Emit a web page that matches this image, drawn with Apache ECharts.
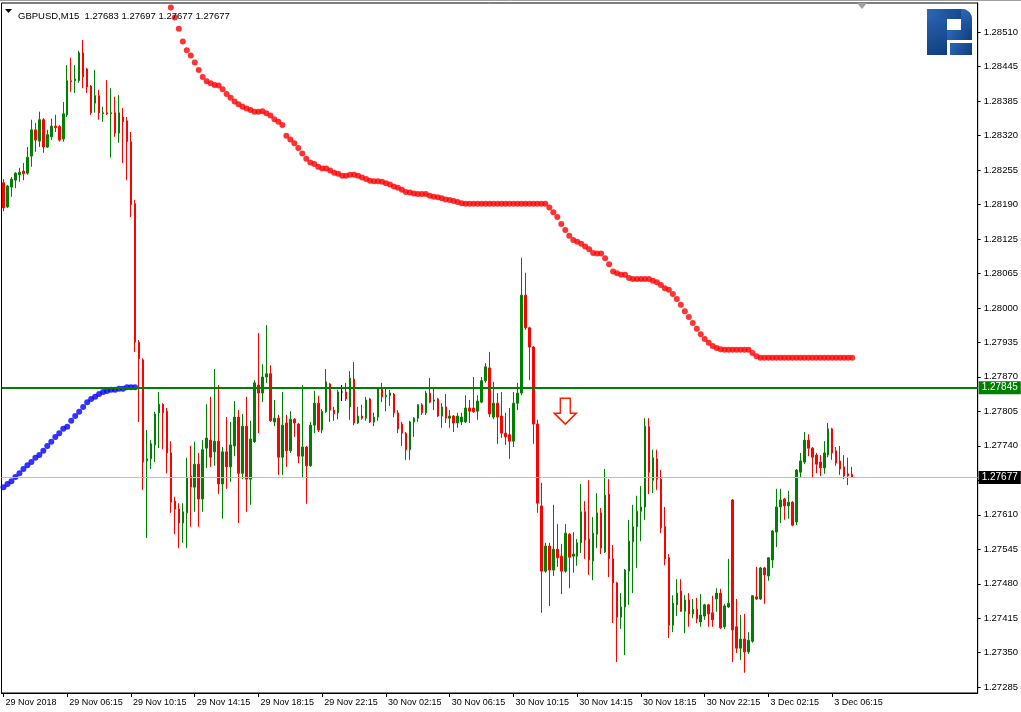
<!DOCTYPE html>
<html><head><meta charset="utf-8">
<script src="https://cdn.jsdelivr.net/npm/echarts@6/dist/echarts.min.js"></script>
<style>html,body{margin:0;padding:0;background:#fff}#c{width:1021px;height:712px}</style>
</head><body><div id="c"></div>
<script>
const symbolName = 'GBPUSD,M15';
const headerPrices = ['1.27683', '1.27697', '1.27677', '1.27677'];
const xTickLabels = ['29 Nov 2018','29 Nov 06:15','29 Nov 10:15','29 Nov 14:15','29 Nov 18:15','29 Nov 22:15','30 Nov 02:15','30 Nov 06:15','30 Nov 10:15','30 Nov 14:15','30 Nov 18:15','30 Nov 22:15','3 Dec 02:15','3 Dec 06:15'];
const yTickLabels = ['1.28510','1.28445','1.28385','1.28320','1.28255','1.28190','1.28125','1.28065','1.28000','1.27935','1.27870','1.27805','1.27740','1.27675','1.27610','1.27545','1.27480','1.27415','1.27350','1.27285'];

const open = [
1.28228,1.28183,1.28220,1.28233,1.28243,1.28250,1.28246,1.28278,1.28327,1.28306,
1.28346,1.28295,1.28314,1.28334,1.28333,1.28310,1.28355,1.28419,1.28419,1.28419,
1.28471,1.28441,1.28409,1.28377,1.28391,1.28357,1.28359,1.28357,1.28359,1.28321,
1.28351,1.28344,1.28305,1.28189,1.27930,1.27897,1.27708,1.27712,1.27738,1.27798,
1.27814,1.27801,1.27723,1.27633,1.27618,1.27592,1.27611,1.27680,1.27659,1.27702,
1.27637,1.27732,1.27747,1.27725,1.27745,1.27665,1.27725,1.27697,1.27736,1.27790,
1.27685,1.27773,1.27674,1.27744,1.27850,1.27835,1.27865,1.27871,1.27781,1.27788,
1.27715,1.27779,1.27727,1.27786,1.27777,1.27717,1.27734,1.27699,1.27775,1.27816,
1.27766,1.27800,1.27852,1.27803,1.27798,1.27837,1.27837,1.27809,1.27861,1.27779,
1.27792,1.27788,1.27824,1.27781,1.27790,1.27843,1.27828,1.27830,1.27833,1.27798,
1.27777,1.27760,1.27729,1.27781,1.27788,1.27813,1.27798,1.27835,1.27820,1.27824,
1.27792,1.27809,1.27788,1.27792,1.27779,1.27781,1.27781,1.27807,1.27807,1.27801,
1.27818,1.27858,1.27882,1.27790,1.27816,1.27792,1.27760,1.27757,1.27745,1.27816,
1.27835,1.28018,1.27957,1.27921,1.27777,1.27624,1.27502,1.27549,1.27504,1.27543,
1.27530,1.27502,1.27571,1.27530,1.27530,1.27555,1.27613,1.27562,1.27521,1.27571,
1.27611,1.27538,1.27646,1.27525,1.27480,1.27416,1.27435,1.27502,1.27557,1.27585,
1.27614,1.27622,1.27772,1.27672,1.27712,1.27674,1.27585,1.27527,1.27401,1.27439,
1.27465,1.27427,1.27448,1.27422,1.27431,1.27407,1.27418,1.27439,1.27424,1.27450,
1.27461,1.27398,1.27435,1.27635,1.27398,1.27358,1.27375,1.27351,1.27371,1.27454,
1.27450,1.27508,1.27493,1.27523,1.27575,1.27622,1.27637,1.27624,1.27631,1.27594,
1.27687,1.27706,1.27747,1.27732,1.27719,1.27706,1.27695,1.27719,1.27768,1.27727,
1.27708,1.27697,1.27684,1.27683];
const high = [
1.28235,1.28224,1.28239,1.28248,1.28256,1.28265,1.28295,1.28346,1.28340,1.28361,
1.28349,1.28327,1.28348,1.28355,1.28336,1.28379,1.28448,1.28462,1.28448,1.28475,
1.28495,1.28443,1.28411,1.28439,1.28402,1.28370,1.28420,1.28405,1.28389,1.28392,
1.28368,1.28351,1.28323,1.28196,1.27934,1.27900,1.27766,1.27747,1.27800,1.27837,
1.27816,1.27807,1.27745,1.27641,1.27629,1.27629,1.27714,1.27736,1.27744,1.27723,
1.27747,1.27814,1.27828,1.27880,1.27850,1.27734,1.27790,1.27781,1.27820,1.27803,
1.27796,1.27828,1.27783,1.27859,1.27947,1.27889,1.27962,1.27887,1.27822,1.27794,
1.27837,1.27794,1.27801,1.27788,1.27779,1.27850,1.27736,1.27781,1.27839,1.27830,
1.27805,1.27880,1.27854,1.27809,1.27841,1.27850,1.27854,1.27876,1.27893,1.27809,
1.27813,1.27828,1.27826,1.27798,1.27844,1.27854,1.27843,1.27841,1.27835,1.27803,
1.27781,1.27762,1.27783,1.27790,1.27814,1.27816,1.27839,1.27863,1.27846,1.27826,
1.27816,1.27833,1.27803,1.27794,1.27798,1.27798,1.27831,1.27822,1.27865,1.27831,
1.27865,1.27891,1.27912,1.27856,1.27835,1.27837,1.27798,1.27807,1.27837,1.27854,
1.28088,1.28060,1.27959,1.27923,1.27785,1.27667,1.27555,1.27555,1.27626,1.27590,
1.27553,1.27590,1.27573,1.27575,1.27562,1.27665,1.27633,1.27672,1.27603,1.27648,
1.27620,1.27693,1.27674,1.27551,1.27482,1.27461,1.27506,1.27598,1.27626,1.27643,
1.27661,1.27788,1.27788,1.27729,1.27729,1.27691,1.27622,1.27534,1.27457,1.27487,
1.27487,1.27457,1.27461,1.27450,1.27452,1.27459,1.27441,1.27441,1.27456,1.27470,
1.27469,1.27441,1.27525,1.27637,1.27450,1.27420,1.27422,1.27388,1.27457,1.27510,
1.27510,1.27510,1.27528,1.27579,1.27656,1.27656,1.27639,1.27652,1.27633,1.27693,
1.27723,1.27762,1.27758,1.27734,1.27723,1.27719,1.27745,1.27779,1.27770,1.27734,
1.27736,1.27719,1.27714,1.27697];
const low = [
1.28175,1.28181,1.28202,1.28218,1.28230,1.28233,1.28243,1.28258,1.28286,1.28295,
1.28284,1.28293,1.28308,1.28323,1.28305,1.28305,1.28351,1.28398,1.28396,1.28415,
1.28405,1.28396,1.28355,1.28359,1.28346,1.28342,1.28355,1.28275,1.28314,1.28303,
1.28265,1.28233,1.28164,1.27912,1.27781,1.27654,1.27564,1.27693,1.27706,1.27732,
1.27730,1.27685,1.27611,1.27571,1.27545,1.27555,1.27545,1.27585,1.27613,1.27585,
1.27613,1.27695,1.27697,1.27699,1.27646,1.27600,1.27656,1.27669,1.27717,1.27592,
1.27674,1.27613,1.27626,1.27742,1.27760,1.27818,1.27854,1.27781,1.27773,1.27682,
1.27682,1.27697,1.27723,1.27753,1.27704,1.27678,1.27628,1.27697,1.27760,1.27762,
1.27760,1.27798,1.27781,1.27783,1.27786,1.27820,1.27820,1.27785,1.27775,1.27777,
1.27785,1.27783,1.27779,1.27773,1.27783,1.27818,1.27801,1.27811,1.27790,1.27760,
1.27736,1.27710,1.27710,1.27753,1.27781,1.27794,1.27794,1.27816,1.27803,1.27790,
1.27770,1.27779,1.27770,1.27762,1.27770,1.27775,1.27779,1.27779,1.27798,1.27785,
1.27816,1.27854,1.27790,1.27786,1.27740,1.27751,1.27738,1.27712,1.27734,1.27803,
1.27831,1.27953,1.27859,1.27740,1.27611,1.27424,1.27499,1.27437,1.27493,1.27510,
1.27459,1.27499,1.27470,1.27499,1.27512,1.27536,1.27525,1.27495,1.27485,1.27545,
1.27534,1.27536,1.27491,1.27405,1.27332,1.27394,1.27345,1.27439,1.27461,1.27508,
1.27558,1.27598,1.27646,1.27648,1.27654,1.27573,1.27513,1.27377,1.27388,1.27418,
1.27426,1.27386,1.27398,1.27414,1.27405,1.27398,1.27411,1.27398,1.27398,1.27426,
1.27394,1.27394,1.27433,1.27332,1.27349,1.27336,1.27312,1.27347,1.27368,1.27448,
1.27448,1.27441,1.27484,1.27508,1.27547,1.27592,1.27598,1.27600,1.27586,1.27588,
1.27678,1.27702,1.27717,1.27678,1.27685,1.27680,1.27684,1.27715,1.27710,1.27699,
1.27682,1.27674,1.27663,1.27677];
const close = [
1.28181,1.28222,1.28235,1.28246,1.28248,1.28245,1.28276,1.28327,1.28308,1.28346,
1.28295,1.28318,1.28334,1.28331,1.28308,1.28357,1.28419,1.28417,1.28422,1.28471,
1.28426,1.28407,1.28359,1.28391,1.28359,1.28359,1.28357,1.28359,1.28321,1.28359,
1.28342,1.28305,1.28187,1.27930,1.27899,1.27706,1.27712,1.27740,1.27796,1.27814,
1.27798,1.27723,1.27631,1.27618,1.27592,1.27613,1.27678,1.27659,1.27702,1.27637,
1.27729,1.27751,1.27715,1.27745,1.27665,1.27725,1.27697,1.27738,1.27790,1.27685,
1.27773,1.27674,1.27749,1.27854,1.27835,1.27865,1.27871,1.27783,1.27788,1.27715,
1.27775,1.27727,1.27786,1.27779,1.27717,1.27734,1.27699,1.27775,1.27816,1.27766,
1.27801,1.27856,1.27803,1.27796,1.27837,1.27837,1.27824,1.27863,1.27779,1.27792,
1.27788,1.27822,1.27781,1.27790,1.27843,1.27828,1.27831,1.27835,1.27798,1.27768,
1.27760,1.27729,1.27781,1.27788,1.27813,1.27798,1.27835,1.27818,1.27822,1.27792,
1.27809,1.27788,1.27792,1.27779,1.27792,1.27790,1.27807,1.27801,1.27800,1.27820,
1.27858,1.27884,1.27796,1.27816,1.27790,1.27760,1.27753,1.27745,1.27816,1.27835,
1.28018,1.27957,1.27921,1.27777,1.27629,1.27502,1.27549,1.27504,1.27543,1.27527,
1.27502,1.27573,1.27528,1.27534,1.27555,1.27613,1.27560,1.27523,1.27573,1.27611,
1.27545,1.27644,1.27525,1.27480,1.27416,1.27435,1.27504,1.27558,1.27585,1.27614,
1.27622,1.27773,1.27687,1.27714,1.27674,1.27583,1.27525,1.27401,1.27442,1.27461,
1.27427,1.27448,1.27422,1.27431,1.27413,1.27420,1.27439,1.27422,1.27411,1.27461,
1.27396,1.27437,1.27442,1.27392,1.27358,1.27375,1.27351,1.27373,1.27456,1.27450,
1.27508,1.27495,1.27527,1.27577,1.27622,1.27635,1.27624,1.27631,1.27588,1.27691,
1.27708,1.27747,1.27732,1.27715,1.27702,1.27695,1.27723,1.27768,1.27723,1.27704,
1.27693,1.27680,1.27680,1.27677];

// Parabolic SAR dots
const sarUpStart = 0;
const sarUp = [
1.27659,1.27665,1.27670,1.27678,1.27685,1.27693,1.27700,1.27706,1.27714,1.27719,
1.27727,1.27736,1.27744,1.27753,1.27760,1.27768,1.27772,1.27783,1.27792,1.27800,
1.27809,1.27818,1.27824,1.27828,1.27833,1.27837,1.27839,1.27841,1.27841,1.27843,
1.27843,1.27846,1.27846,1.27846];
const sarDownStart = 42;
const sarDown = [
1.28556,1.28537,1.28516,1.28492,1.28476,1.28466,1.28453,1.28439,1.28426,1.28418,
1.28414,1.28411,1.28410,1.28403,1.28394,1.28387,1.28380,1.28375,1.28370,1.28367,
1.28364,1.28361,1.28361,1.28362,1.28358,1.28354,1.28347,1.28342,1.28336,1.28316,
1.28309,1.28302,1.28293,1.28283,1.28273,1.28266,1.28263,1.28258,1.28255,1.28255,
1.28251,1.28247,1.28245,1.28241,1.28241,1.28243,1.28243,1.28241,1.28238,1.28235,
1.28232,1.28231,1.28231,1.28230,1.28227,1.28225,1.28221,1.28219,1.28215,1.28211,
1.28210,1.28208,1.28207,1.28207,1.28207,1.28204,1.28202,1.28201,1.28199,1.28197,
1.28196,1.28194,1.28192,1.28190,
1.28189,1.28189,1.28189,1.28189,1.28189,1.28189,1.28189,1.28189,1.28189,1.28189,
1.28189,1.28189,1.28189,1.28189,1.28189,1.28189,1.28189,1.28189,1.28189,1.28189,1.28189,
1.28182,1.28173,1.28164,1.28151,1.28140,1.28129,1.28121,1.28118,1.28114,1.28109,
1.28104,1.28097,1.28096,1.28096,1.28087,1.28076,1.28062,1.28059,1.28056,1.28056,
1.28050,1.28048,1.28048,1.28048,1.28048,1.28048,1.28045,1.28042,1.28037,1.28031,
1.28028,1.28020,1.28011,1.28000,1.27988,1.27977,1.27966,1.27955,1.27945,1.27936,
1.27929,1.27923,1.27919,1.27917,
1.27916,1.27916,1.27916,1.27916,1.27916,1.27916,1.27916,
1.27910,1.27904,
1.27901,1.27901,1.27901,1.27901,1.27901,1.27901,1.27901,1.27901,1.27901,1.27901,1.27901,1.27901,
1.27901,1.27901,1.27901,1.27901,1.27901,1.27901,1.27901,1.27901,1.27901,1.27901,1.27901,1.27901];

const levelLine = 1.27845;
const lastPrice = 1.27677;
const signalBar = 141;
const signalPrice = 1.27801;

// axis setup
const SLOTS = 245;
const LABEL_EVERY = 16;
const cats = Array.from({length: SLOTS}, (_, i) => String(i));
const yTop = Number(yTickLabels[0]);
const yStep = (Number(yTickLabels[0]) - Number(yTickLabels[yTickLabels.length - 1])) / (yTickLabels.length - 1);
const yTickValues = yTickLabels.map((_, i) => yTop - i * yStep);
const FONT = '"Liberation Sans", Arial, sans-serif';
const showX = (i) => i % LABEL_EVERY === 0 && (i / LABEL_EVERY) < xTickLabels.length;

const candles = open.map((o, i) => [o, close[i], low[i], high[i]]);
const upDots = sarUp.map((v, i) => [String(sarUpStart + i), v]);
const downDots = sarDown.map((v, i) => [String(sarDownStart + i), v]);

const logoFill = new echarts.graphic.LinearGradient(0, 0, 1, 1, [
  {offset: 0, color: '#2d68b5'}, {offset: 1, color: '#0e3d80'}
]);

const chart = echarts.init(document.getElementById('c'), null, {renderer: 'canvas'});
chart.setOption({
  animation: false,
  backgroundColor: '#ffffff',
  textStyle: {fontFamily: FONT},
  title: {
    text: symbolName + '  ' + headerPrices.join(' '),
    left: 13, top: 6,
    textStyle: {fontSize: 9.5, fontWeight: 'normal', color: '#000', fontFamily: FONT}
  },
  grid: {left: 1.5, right: 40.5, top: 3, bottom: 19, show: true, borderColor: '#000', borderWidth: 1, backgroundColor: 'transparent'},
  xAxis: {
    type: 'category', data: cats, boundaryGap: true,
    axisLine: {show: true, onZero: false, lineStyle: {color: '#000', width: 1}},
    axisTick: {show: true, alignWithLabel: true, length: 4, interval: (i) => showX(i), lineStyle: {color: '#000'}},
    axisLabel: {
      interval: (i) => showX(i),
      formatter: (v, i) => xTickLabels[i / LABEL_EVERY] || '',
      align: 'left', margin: 5, padding: [0, 0, 0, 2],
      fontSize: 9, color: '#000', fontFamily: FONT, hideOverlap: false
    },
    splitLine: {show: false}
  },
  yAxis: {
    type: 'value', position: 'right', min: 1.272742, max: 1.285642,
    axisLine: {show: true, lineStyle: {color: '#000', width: 1}},
    axisTick: {show: true, length: 3, customValues: yTickValues, lineStyle: {color: '#000'}},
    axisLabel: {
      customValues: yTickValues,
      formatter: (v) => yTickLabels[Math.round((yTop - v) / yStep)] || '',
      margin: 6, fontSize: 9.5, color: '#000', fontFamily: FONT
    },
    splitLine: {show: false}
  },
  series: [
    {
      type: 'candlestick', data: candles, barWidth: 2, z: 3,
      itemStyle: {color: '#008000', color0: '#ff0000', borderColor: '#008000', borderColor0: '#ff0000', borderColorDoji: '#000000', borderWidth: 1},
      markLine: {
        silent: true, symbol: 'none', animation: false, precision: 5,
        data: [
          {yAxis: levelLine, lineStyle: {color: '#008000', width: 2, type: 'solid'},
           label: {show: true, position: 'end', distance: 1, formatter: (p) => p.value.toFixed(5), color: '#ffffff', backgroundColor: '#008000', padding: [2, 3, 1, 3], fontSize: 10, fontFamily: FONT}},
          {yAxis: lastPrice, lineStyle: {color: '#c0c0c0', width: 1, type: 'solid'},
           label: {show: true, position: 'end', distance: 1, formatter: (p) => p.value.toFixed(5), color: '#ffffff', backgroundColor: '#000000', padding: [2, 3, 1, 3], fontSize: 10, fontFamily: FONT}}
        ]
      },
      markPoint: {
        silent: true, animation: false,
        symbol: 'path://M6,0 L16,0 L16,15 L22,15 L11,26 L0,15 L6,15 Z',
        symbolSize: [22, 26],
        itemStyle: {color: '#ffffff', borderColor: '#ff1a00', borderWidth: 1.5},
        label: {show: false},
        data: [{coord: [String(signalBar), signalPrice]}]
      }
    },
    {type: 'scatter', data: downDots, symbol: 'circle', symbolSize: 6, z: 4, itemStyle: {color: '#ff0000'}},
    {type: 'scatter', data: upDots, symbol: 'circle', symbolSize: 6, z: 4, itemStyle: {color: '#0000ff'}}
  ],
  graphic: [
    {type: 'line', shape: {x1: 0, y1: 0.5, x2: 1021, y2: 0.5}, style: {stroke: '#a0a0a0', lineWidth: 1}},
    {type: 'polygon', shape: {points: [[5, 9], [12, 9], [8.5, 13]]}, style: {fill: '#000'}},
    {type: 'polygon', shape: {points: [[857, 3], [867, 3], [862, 9]]}, style: {fill: '#a0a0a0'}},
    {type: 'group', children: [
      {type: 'rect', shape: {x: 927, y: 9, width: 20, height: 46}, style: {fill: logoFill}},
      {type: 'rect', shape: {x: 927, y: 9, width: 45, height: 10, r: [0, 10, 0, 0]}, style: {fill: logoFill}},
      {type: 'rect', shape: {x: 961, y: 9, width: 11, height: 31, r: [0, 10, 0, 0]}, style: {fill: logoFill}},
      {type: 'rect', shape: {x: 947, y: 30, width: 25, height: 10}, style: {fill: logoFill}},
      {type: 'rect', shape: {x: 950, y: 43, width: 22, height: 12}, style: {fill: logoFill}}
    ]}
  ]
});
</script></body></html>
